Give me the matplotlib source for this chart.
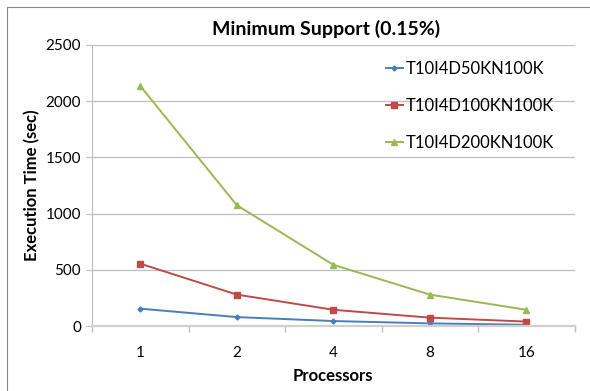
import matplotlib.pyplot as plt
from matplotlib.patches import Rectangle

processors = ['1', '2', '4', '8', '16']
d50k = [155, 80, 45, 24, 12]
d100k = [555, 280, 145, 75, 40]
d200k = [2135, 1075, 545, 280, 145]
labels = ['T10I4D50KN100K', 'T10I4D100KN100K', 'T10I4D200KN100K']

plt.rcParams['font.family'] = ['Lato', 'DejaVu Sans']

fig = plt.figure(figsize=(5.9, 3.91), dpi=100)
ax = fig.add_axes([0.156, 0.166, 0.818, 0.719])

# chart frame (runs off the right and bottom edges)
fig.patches.append(Rectangle((7 / 590, -0.05), 1.2, 1 - 7 / 391 + 0.05,
                             transform=fig.transFigure, fill=False,
                             edgecolor='#868686', linewidth=0.8))

x = range(len(processors))
ax.plot(x, d50k, color='#4A7EBB', marker='D', markersize=2.5, linewidth=1.4, label=labels[0])
ax.plot(x, d100k, color='#BE4B48', marker='s', markersize=4.2, linewidth=1.4, label=labels[1])
ax.plot(x, d200k, color='#98B954', marker='^', markersize=4.2, linewidth=1.4, label=labels[2])

ax.set_xlim(-0.5, len(processors) - 0.5)
ax.set_ylim(0, 2500)
ax.set_yticks(range(0, 2501, 500))
ax.set_xticks(list(x))
ax.set_xticklabels(processors)
ax.set_xticks([i - 0.5 for i in range(len(processors) + 1)], minor=True)
ax.tick_params(axis='x', which='major', length=0, labelsize=11, pad=14)
ax.tick_params(axis='x', which='minor', length=4, color='#BFBFBF', width=1)
ax.tick_params(axis='y', length=4, color='#BFBFBF', labelsize=11, pad=4)

ax.grid(axis='y', color='#BFBFBF', linewidth=0.9)
ax.set_axisbelow(True)
for side in ('top', 'right'):
    ax.spines[side].set_visible(False)
ax.spines['left'].set_color('#BFBFBF')
ax.spines['bottom'].set_color('#D0D0D0')
ax.spines['bottom'].set_linewidth(1.6)

ax.set_xlabel('Processors', fontsize=12, fontweight='bold', labelpad=6)
ax.set_ylabel('Execution Time (sec)', fontsize=12, fontweight='bold', labelpad=4)
fig.text(0.553, 0.927, 'Minimum Support (0.15%)', fontsize=14, fontweight='bold',
         ha='center', va='center')

ax.legend(loc='upper left', bbox_to_anchor=(386 / 590, 1 - 61 / 391),
          bbox_transform=fig.transFigure, frameon=False, fontsize=12,
          handlelength=1.0, handletextpad=0.2, labelspacing=1.25,
          borderpad=0, borderaxespad=0)

fig.savefig('out.png', dpi=100)
